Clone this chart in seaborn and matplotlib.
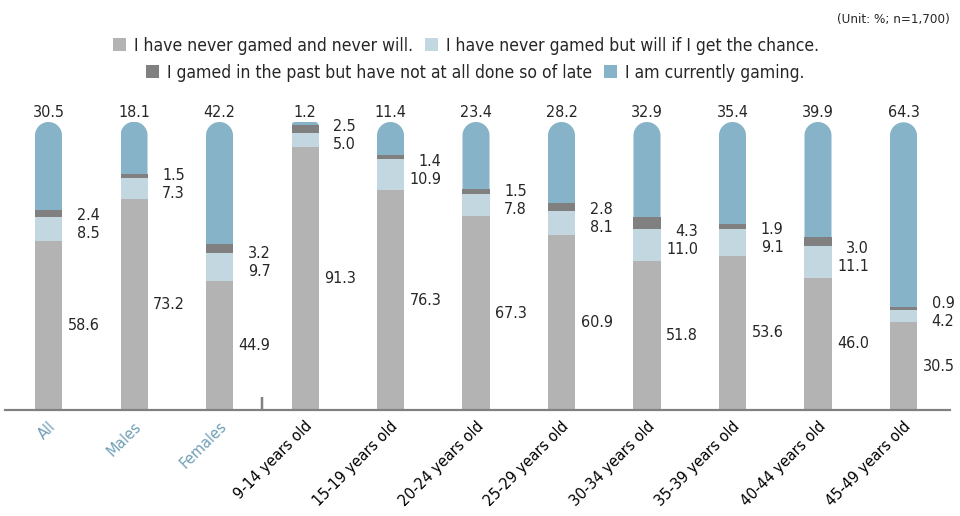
import numpy as np
import pandas as pd
import matplotlib
matplotlib.use("Agg")
import matplotlib.pyplot as plt
import seaborn as sns
from matplotlib.path import Path
from matplotlib.patches import PathPatch, Patch
from matplotlib.transforms import ScaledTranslation

# ---- data (%) ----
groups = ["All", "Males", "Females", "9-14 years old", "15-19 years old",
          "20-24 years old", "25-29 years old", "30-34 years old",
          "35-39 years old", "40-44 years old", "45-49 years old"]
never_will = [58.6, 73.2, 44.9, 91.3, 76.3, 67.3, 60.9, 51.8, 53.6, 46.0, 30.5]
would_try = [8.5, 7.3, 9.7, 5.0, 10.9, 7.8, 8.1, 11.0, 9.1, 11.1, 4.2]
lapsed = [2.4, 1.5, 3.2, 2.5, 1.4, 1.5, 2.8, 4.3, 1.9, 3.0, 0.9]
current = [30.5, 18.1, 42.2, 1.2, 11.4, 23.4, 28.2, 32.9, 35.4, 39.9, 64.3]
series_labels = ["I have never gamed and never will.",
                 "I have never gamed but will if I get the chance.",
                 "I gamed in the past but have not at all done so of late",
                 "I am currently gaming."]
n_overview = 3          # All / Males / Females come before the age bands
unit_note = "(Unit: %; n=1,700)"

# ---- style ----
colors = ["#b3b3b3", "#c3d7e0", "#808080", "#86b3c8"]
overview_color = "#6f9fb6"
axis_color = "#808080"
FS = 11.5
LEG_FS = 12.6
W_PX, H_PX, DPI = 960, 516, 100

sns.set_style("white")
plt.rcParams["font.family"] = ["DejaVu Sans"]
plt.rcParams["font.stretch"] = "condensed"

fig = plt.figure(figsize=(W_PX / DPI, H_PX / DPI), dpi=DPI)
ax_box = [5 / W_PX, 106 / H_PX, 945 / W_PX, 288 / H_PX]
ax = fig.add_axes(ax_box)

df = pd.DataFrame({"group": groups, "never": never_will, "would": would_try,
                   "lapsed": lapsed, "current": current})
cols = ["never", "would", "lapsed", "current"]

bar_w = 0.316
bottom = np.zeros(len(groups))
bottoms = {}
for col, color in zip(cols, colors):
    bottoms[col] = bottom.copy()
    sns.barplot(data=df, x="group", y=col, order=groups, color=color,
                width=bar_w, bottom=bottom.copy(), saturation=1,
                errorbar=None, linewidth=0, ax=ax)
    bottom += df[col].to_numpy()
totals = bottom

xmin, xmax = -0.509, len(groups) - 1 + 0.544
ax.set_xlim(xmin, xmax)
ax.set_ylim(0, 100)
ax.set_ylabel("")
ax.set_xlabel("")
ax.set_yticks([])

# pixel scale of the data axes
ppx = ax_box[2] * W_PX / (xmax - xmin)
ppy = ax_box[3] * H_PX / 100.0


def rounded_top(rect):
    """Clip path giving a bar a rounded (capsule-like) top."""
    x0, y0 = rect.get_x(), rect.get_y()
    w, h = rect.get_width(), rect.get_height()
    r_px = min(w * ppx / 2, h * ppy)
    rx, ry = r_px / ppx, r_px / ppy
    top = y0 + h
    t1 = np.linspace(np.pi, np.pi / 2, 24)
    t2 = np.linspace(np.pi / 2, 0, 24)
    left = np.c_[x0 + rx + rx * np.cos(t1), top - ry + ry * np.sin(t1)]
    right = np.c_[x0 + w - rx + rx * np.cos(t2), top - ry + ry * np.sin(t2)]
    base = y0 - 1
    verts = np.vstack([[x0, base], left, right, [x0 + w, base], [x0, base]])
    return PathPatch(Path(verts, closed=True), transform=ax.transData,
                     facecolor="none", edgecolor="none")


for rect in ax.containers[-1]:
    rect.set_clip_path(rounded_top(rect))

# ---- value labels ----
pt = 72 / DPI   # points per pixel
lab_dx = 51 * pt
for i in range(len(groups)):
    ax.annotate(f"{current[i]:.1f}", xy=(i, totals[i]), xytext=(0, 9.5 * pt),
                textcoords="offset points", ha="center", va="center",
                fontsize=FS, annotation_clip=False)
    ax.annotate(f"{never_will[i]:.1f}", xy=(i, never_will[i] / 2),
                xytext=(lab_dx, 0), textcoords="offset points",
                ha="right", va="center", fontsize=FS)
    y_light = bottoms["would"][i] + would_try[i] / 2
    ax.annotate(f"{would_try[i]:.1f}", xy=(i, y_light),
                xytext=(lab_dx, -5 * pt), textcoords="offset points",
                ha="right", va="center", fontsize=FS)
    ax.annotate(f"{lapsed[i]:.1f}", xy=(i, y_light),
                xytext=(lab_dx, 13 * pt), textcoords="offset points",
                ha="right", va="center", fontsize=FS)

# ---- axes decoration ----
sns.despine(ax=ax, left=True)
ax.spines["bottom"].set_color(axis_color)
ax.spines["bottom"].set_linewidth(2.2 * pt)
ax.axvline(n_overview - 0.5, ymin=0, ymax=13 / 288, color=axis_color,
           lw=2.5 * pt, solid_capstyle="butt")

ax.set_xticks(range(len(groups)))
ax.set_xticklabels(groups, rotation=45, ha="right", va="center",
                   rotation_mode="anchor", fontsize=FS)
ax.tick_params(axis="x", length=0, pad=14 * pt)
shift = ScaledTranslation(5 / DPI, 0, fig.dpi_scale_trans)
for k, lab in enumerate(ax.get_xticklabels()):
    lab.set_transform(lab.get_transform() + shift)
    lab.set_color(overview_color if k < n_overview else "black")

# ---- legend and note ----
handles = [Patch(facecolor=c, edgecolor="none", label=l)
           for c, l in zip(colors, series_labels)]
leg_kw = dict(loc="center", ncol=2, frameon=False, fontsize=LEG_FS,
              handlelength=0.75, handleheight=0.75, handletextpad=0.45,
              columnspacing=0.7, borderpad=0, borderaxespad=0)
fig.legend(handles=handles[:2], bbox_to_anchor=(466 / W_PX, 1 - 46 / H_PX), **leg_kw)
fig.legend(handles=handles[2:], bbox_to_anchor=(475 / W_PX, 1 - 73 / H_PX), **leg_kw)
fig.text(950 / W_PX, 1 - 19 / H_PX, unit_note, ha="right", va="center",
         fontsize=9.6)

fig.savefig("out.png", dpi=DPI)
